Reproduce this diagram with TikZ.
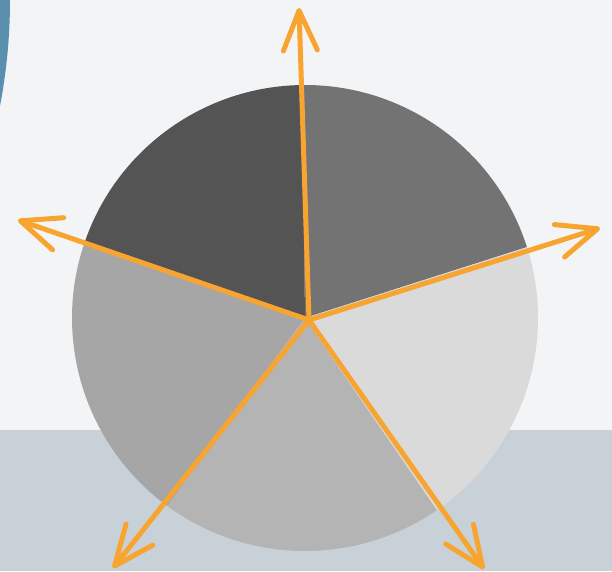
\documentclass[tikz,border=0pt]{standalone}
\usetikzlibrary{arrows.meta}
\definecolor{paper}{HTML}{F3F4F6}
\definecolor{floor}{HTML}{C8D0D8}
\definecolor{corner}{HTML}{5B8FAE}
\definecolor{axis}{HTML}{F8A431}
\definecolor{sliceA}{HTML}{737373}
\definecolor{sliceB}{HTML}{545454}
\definecolor{sliceC}{HTML}{A6A6A6}
\definecolor{sliceD}{HTML}{B4B4B4}
\definecolor{sliceE}{HTML}{DADADA}
\tikzset{
    vector/.style={draw=axis, line width=5pt, line cap=round,
                   -{Straight Barb[length=40pt, width=34pt, line cap=round, line join=round]}},
}

\begin{document}
\begin{tikzpicture}[x=1pt, y=1pt]

    \useasboundingbox (0,0) rectangle (612,571);
    \clip (0,0) rectangle (612,571);
    \fill[paper] (0,0) rectangle (612,571);
    \fill[floor] (0,0) rectangle (612,141);
    \fill[corner] (-550,571) circle[radius=560];

    % pie slices
    \coordinate (middle) at (305,253);
    \fill[sliceA] (middle) -- +(17.7:233) arc[start angle=17.7, end angle=90.7, radius=233] -- cycle;
    \fill[sliceB] (middle) -- +(90.7:233) arc[start angle=90.7, end angle=161.6, radius=233] -- cycle;
    \fill[sliceC] (middle) -- +(161.6:233) arc[start angle=161.6, end angle=233.8, radius=233] -- cycle;
    \fill[sliceD] (middle) -- +(233.8:233) arc[start angle=233.8, end angle=304.5, radius=233] -- cycle;
    \fill[sliceE] (middle) -- +(304.5:233) arc[start angle=304.5, end angle=377.7, radius=233] -- cycle;

    % axes
    \coordinate (hub) at (309,251);
    \coordinate (up) at (299,563);
    \coordinate (right) at (600,343);
    \coordinate (left) at (18,351);
    \coordinate (downleft) at (113,3);
    \coordinate (downright) at (484,2);
    \draw[vector] (hub) -- (up);
    \draw[vector] (hub) -- (right);
    \draw[vector] (hub) -- (left);
    \draw[vector] (hub) -- (downleft);
    \draw[vector] (hub) -- (downright);

\end{tikzpicture}
\end{document}
